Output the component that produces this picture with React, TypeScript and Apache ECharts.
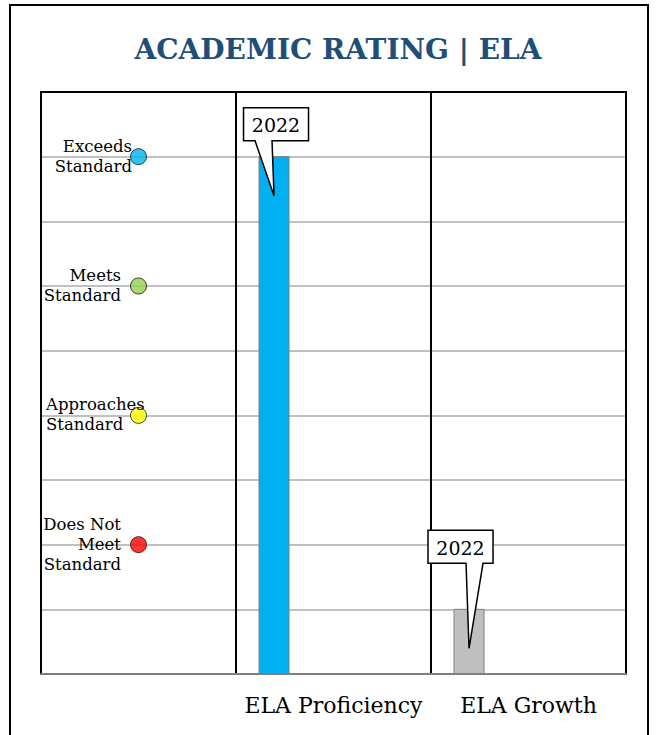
import React, { useEffect, useRef } from "react";
import * as echarts from "echarts";

const titleText = "ACADEMIC RATING | ELA";
const categories = ["", "ELA Proficiency", "ELA Growth"];
const yearLabel = "2022";
const values2022: (number | null)[] = [null, 8, 1];
const ratingLabels = [
  "Exceeds\nStandard",
  "Meets\nStandard",
  "Approaches\nStandard",
  "Does Not\nMeet\nStandard",
];
const ratingLevels = [8, 6, 4, 2];
const ratingColors = ["#00B0F0", "#92D050", "#FFFF00", "#FF0000"];
const barColors = ["#FFFFFF", "#00B0F0", "#BFBFBF"];

// label placement styles (pixels relative to the marker box) per rating
const ratingLabelDx = [2, -9, -84, -9];
const ratingLabelAlign = ["right", "right", "left", "right"];

// callout styling (pixels) per category
const calloutLift = [0, 16, 46];
const calloutBoxDx = [0, 2, -8.5];
const calloutTail: [number, number][] = [
  [0, 0],
  [-19, -2],
  [-3, 14],
];

const FONT = "'DejaVu Serif', serif";
const BAR_W = 30;
const BAR_OFFSET_FRAC = -0.305;

export default function App() {
  const ref = useRef<HTMLDivElement>(null);
  useEffect(() => {
    if (!ref.current) return;
    const chart = echarts.init(ref.current, null, { renderer: "svg" });
    const barData = values2022
      .map((v, i) => (v == null ? null : [i, v]))
      .filter((d) => d !== null) as number[][];

    const option: any = {
      animation: false,
      backgroundColor: "#fff",
      title: {
        text: titleText,
        left: 333,
        textAlign: "center",
        top: 30,
        textStyle: {
          fontFamily: FONT,
          fontWeight: "bold",
          fontSize: 28,
          color: "#1F4E79",
        },
      },
      graphic: [
        {
          type: "rect",
          shape: { x: 10, y: 5, width: 638, height: 760 },
          style: { fill: "none", stroke: "#000", lineWidth: 2 },
          silent: true,
        },
      ],
      grid: {
        left: 41,
        top: 92,
        width: 585,
        height: 582,
        show: true,
        borderColor: "#000",
        borderWidth: 2,
        containLabel: false,
      },
      xAxis: {
        type: "category",
        data: categories,
        boundaryGap: true,
        axisLine: { show: true, lineStyle: { color: "#7F7F7F", width: 2 } },
        axisTick: { show: false },
        axisLabel: {
          interval: 0,
          margin: 20,
          fontFamily: FONT,
          fontSize: 22,
          color: "#000",
        },
        splitLine: {
          show: true,
          interval: 0,
          lineStyle: { color: "#000", width: 2 },
        },
        z: 3,
      },
      yAxis: {
        type: "value",
        min: 0,
        max: 9,
        interval: 1,
        axisLine: { show: false },
        axisTick: { show: false },
        axisLabel: { show: false },
        splitLine: {
          show: true,
          showMaxLine: false,
          lineStyle: { color: "#C0C0C0", width: 2 },
        },
      },
      series: [
        {
          type: "scatter",
          name: "Ratings",
          symbol: "circle",
          symbolSize: 16,
          z: 4,
          label: { show: true, color: "#000" },
          data: ratingLevels.map((lv, i) => ({
            value: [0, lv],
            itemStyle: {
              color: ratingColors[i],
              borderColor: "#111",
              borderWidth: 1,
            },
            label: {
              show: true,
              formatter: ratingLabels[i],
              position: [ratingLabelDx[i], 8],
              align: ratingLabelAlign[i],
              verticalAlign: "middle",
              fontFamily: FONT,
              fontSize: 16.5,
              lineHeight: 20,
              color: "#000",
              textBorderWidth: 0,
              opacity: 1,
            },
          })),
        },
        {
          type: "custom",
          name: yearLabel,
          z: 3,
          data: barData,
          encode: { x: 0, y: 1 },
          renderItem: (params: any, api: any) => {
            const idx = api.value(0);
            const val = api.value(1);
            const top = api.coord([idx, val]);
            const base = api.coord([idx, 0]);
            const cw = api.size([1, 0])[0];
            const cx = top[0] + cw * BAR_OFFSET_FRAC;
            return {
              type: "rect",
              shape: {
                x: cx - BAR_W / 2,
                y: top[1],
                width: BAR_W,
                height: base[1] - top[1],
              },
              style: {
                fill: barColors[idx],
                stroke: "#7F7F7F",
                lineWidth: 1,
              },
            };
          },
        },
        {
          type: "custom",
          name: yearLabel + " callout",
          z: 6,
          data: barData,
          encode: { x: 0, y: 1 },
          renderItem: (params: any, api: any) => {
            const idx = api.value(0);
            const val = api.value(1);
            const top = api.coord([idx, val]);
            const cw = api.size([1, 0])[0];
            const cx = top[0] + cw * BAR_OFFSET_FRAC;
            const tipX = cx;
            const tipY = top[1] + 39;
            const boxW = 65;
            const boxH = 33;
            const bxC = cx + calloutBoxDx[idx];
            const B = top[1] - calloutLift[idx];
            const T = B - boxH;
            const L = bxC - boxW / 2;
            const R = bxC + boxW / 2;
            const tl = tipX + calloutTail[idx][0];
            const tr = tipX + calloutTail[idx][1];
            return {
              type: "group",
              children: [
                {
                  type: "polygon",
                  shape: {
                    points: [
                      [L, T],
                      [R, T],
                      [R, B],
                      [tr, B],
                      [tipX, tipY],
                      [tl, B],
                      [L, B],
                    ],
                  },
                  style: { fill: "#fff", stroke: "#000", lineWidth: 1.5 },
                },
                {
                  type: "text",
                  x: bxC,
                  y: (T + B) / 2 + 1,
                  style: {
                    text: yearLabel,
                    fontFamily: FONT,
                    fontSize: 19,
                    fill: "#000",
                    align: "center",
                    verticalAlign: "middle",
                  },
                },
              ],
            };
          },
        },
      ],
    };
    chart.setOption(option);
    return () => chart.dispose();
  }, []);
  return (
    <div
      ref={ref}
      style={{ position: "fixed", left: 0, top: 0, width: 657, height: 735 }}
    />
  );
}
